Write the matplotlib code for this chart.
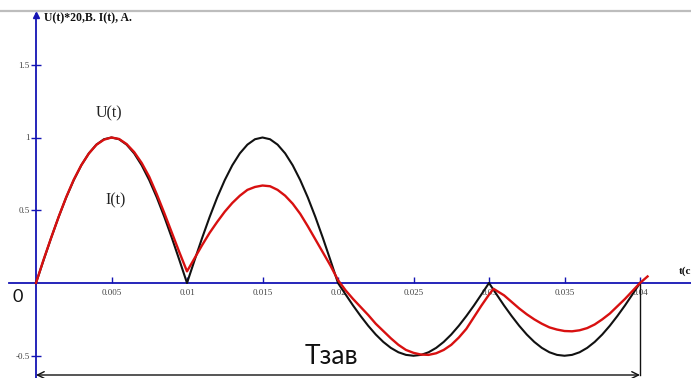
import matplotlib
matplotlib.use("Agg")
import matplotlib.pyplot as plt

# ---- data ----
t_u = [0.0, 0.0005, 0.001, 0.0015, 0.002, 0.0025, 0.003, 0.0035, 0.004, 0.0045,
       0.005, 0.0055, 0.006, 0.0065, 0.007, 0.0075, 0.008, 0.0085, 0.009, 0.0095,
       0.01, 0.0105, 0.011, 0.0115, 0.012, 0.0125, 0.013, 0.0135, 0.014, 0.0145,
       0.015, 0.0155, 0.016, 0.0165, 0.017, 0.0175, 0.018, 0.0185, 0.019, 0.0195,
       0.02, 0.0205, 0.021, 0.0215, 0.022, 0.0225, 0.023, 0.0235, 0.024, 0.0245,
       0.025, 0.0255, 0.026, 0.0265, 0.027, 0.0275, 0.028, 0.0285, 0.029, 0.0295,
       0.03, 0.0305, 0.031, 0.0315, 0.032, 0.0325, 0.033, 0.0335, 0.034, 0.0345,
       0.035, 0.0355, 0.036, 0.0365, 0.037, 0.0375, 0.038, 0.0385, 0.039, 0.0395,
       0.04]
u_vals = [0.0, 0.156, 0.309, 0.454, 0.588, 0.707, 0.809, 0.891, 0.951, 0.988,
          1.0, 0.988, 0.951, 0.891, 0.809, 0.707, 0.588, 0.454, 0.309, 0.156,
          0.0, 0.156, 0.309, 0.454, 0.588, 0.707, 0.809, 0.891, 0.951, 0.988,
          1.0, 0.988, 0.951, 0.891, 0.809, 0.707, 0.588, 0.454, 0.309, 0.156,
          0.0, -0.078, -0.155, -0.227, -0.294, -0.354, -0.405, -0.446, -0.476, -0.494,
          -0.5, -0.494, -0.476, -0.446, -0.405, -0.354, -0.294, -0.227, -0.155, -0.078,
          0.0, -0.078, -0.155, -0.227, -0.294, -0.354, -0.405, -0.446, -0.476, -0.494,
          -0.5, -0.494, -0.476, -0.446, -0.405, -0.354, -0.294, -0.227, -0.155, -0.078,
          0.0]

t_i = [0.0, 0.0005, 0.001, 0.0015, 0.002, 0.0025, 0.003, 0.0035, 0.004, 0.0045,
       0.005, 0.0055, 0.006, 0.0065, 0.007, 0.0075, 0.008, 0.0085, 0.009, 0.0095,
       0.01, 0.0105, 0.011, 0.0115, 0.012, 0.0125, 0.013, 0.0135, 0.014, 0.0145,
       0.015, 0.0155, 0.016, 0.0165, 0.017, 0.0175, 0.018, 0.0185, 0.019, 0.0195,
       0.02, 0.0205, 0.021, 0.0215, 0.022, 0.0225, 0.023, 0.0235, 0.024, 0.0245,
       0.025, 0.0255, 0.026, 0.0265, 0.027, 0.0275, 0.028, 0.0285, 0.029, 0.0295,
       0.03, 0.0303, 0.031, 0.0315, 0.032, 0.0325, 0.033, 0.0335, 0.034, 0.0345,
       0.035, 0.0355, 0.036, 0.0365, 0.037, 0.0375, 0.038, 0.0385, 0.039, 0.0395,
       0.04, 0.0405]
i_vals = [0.0, 0.16, 0.31, 0.455, 0.59, 0.71, 0.81, 0.89, 0.95, 0.985,
          1.0, 0.99, 0.955, 0.90, 0.825, 0.73, 0.61, 0.48, 0.345, 0.21,
          0.08, 0.17, 0.26, 0.345, 0.42, 0.49, 0.55, 0.60, 0.64, 0.66,
          0.67, 0.665, 0.64, 0.60, 0.545, 0.475, 0.39, 0.30, 0.21, 0.12,
          0.02, -0.05, -0.11, -0.165, -0.22, -0.28, -0.33, -0.38, -0.425, -0.46,
          -0.48, -0.492, -0.494, -0.483, -0.46, -0.425, -0.375, -0.315, -0.235, -0.155,
          -0.08, -0.04, -0.085, -0.13, -0.175, -0.215, -0.25, -0.28, -0.305, -0.32,
          -0.33, -0.332, -0.325, -0.31, -0.285, -0.25, -0.21, -0.16, -0.11, -0.055,
          0.0, 0.045]

x_ticks = [0.005, 0.01, 0.015, 0.02, 0.025, 0.03, 0.035, 0.04]
x_tick_labels = ["0.005", "0.01", "0.015", "0.02", "0.025", "0.03", "0.035", "0.04"]
y_ticks = [-0.5, 0.5, 1.0, 1.5]
y_tick_labels = ["-0.5", "0.5", "1", "1.5"]
t_period = 0.04

# ---- figure ----
W, H = 691, 378
fig = plt.figure(figsize=(W / 100, H / 100), dpi=100)
ax = fig.add_axes([0, 0, 1, 1])

px_per_s = 15100.0
px_per_unit = 145.5
x0_px, y0_px = 36.0, 283.0
ax.set_xlim(-x0_px / px_per_s, (W - x0_px) / px_per_s)
ax.set_ylim(-(H - y0_px) / px_per_unit, y0_px / px_per_unit)

def ypx(p):
    return (y0_px - p) / px_per_unit

def xpx(p):
    return (p - x0_px) / px_per_s

blue = "#1414b4"
ax.spines["top"].set_visible(False)
ax.spines["right"].set_visible(False)
ax.spines["left"].set_position(("data", 0))
ax.spines["bottom"].set_position(("data", 0))
for s in ("left", "bottom"):
    ax.spines[s].set_color(blue)
    ax.spines[s].set_linewidth(1.3)
ax.spines["left"].set_bounds(ypx(H), ypx(14))
ax.spines["bottom"].set_bounds(xpx(9), xpx(W))

ax.set_xticks(x_ticks)
ax.set_xticklabels(x_tick_labels)
ax.set_yticks(y_ticks)
ax.set_yticklabels(y_tick_labels)
ax.tick_params(axis="x", direction="in", length=4, width=1, color=blue, pad=4,
               labelsize=6.5, labelcolor="#444444")
ax.tick_params(axis="y", direction="inout", length=7, width=1, color=blue, pad=1,
               labelsize=6.5, labelcolor="#444444")
for lab in ax.get_xticklabels() + ax.get_yticklabels():
    lab.set_fontfamily("Liberation Serif")

# top grey line and axis arrow
ax.axhline(ypx(11), color="#bdbdbd", lw=1.6, zorder=1)
ax.plot([0], [ypx(15)], marker="^", color=blue, markersize=5, clip_on=False, zorder=5)

# curves
ax.plot(t_u, u_vals, color="#111111", lw=1.5, zorder=3)
ax.plot(t_i, i_vals, color="#d81010", lw=1.7, zorder=4)

# texts
serif = "Liberation Serif"
ax.text(xpx(44), ypx(18), "U(t)*20,B. I(t), A.", family=serif, fontweight="bold",
        fontsize=8.5, ha="left", va="center", color="#111111")
ax.text(xpx(96), ypx(113), "U(t)", family=serif, fontsize=11.5, ha="left", va="center",
        color="#222222")
ax.text(xpx(105), ypx(200), "I(t)", family=serif, fontsize=11.5, ha="left", va="center",
        color="#222222")
ax.text(xpx(679), ypx(271), "t(c", family=serif, fontweight="bold", fontsize=8,
        ha="left", va="center", color="#111111")
ax.text(xpx(18), ypx(297), "0", family=["Lato", "Noto Sans", "DejaVu Sans"],
        fontsize=13, ha="center", va="center", color="#111111")
ax.text(xpx(331), ypx(357), "Тзав", family=["Lato", "Noto Sans", "DejaVu Sans"],
        fontsize=19, ha="center", va="center", color="#111111")

# T span arrow and vertical line
y_arrow = ypx(375)
ax.annotate("", xy=(0, y_arrow), xytext=(t_period, y_arrow),
            arrowprops=dict(arrowstyle="<->", color="#111111", lw=1.0,
                            shrinkA=0, shrinkB=0, mutation_scale=12))
ax.plot([t_period, t_period], [0, y_arrow], color="#111111", lw=1.0, zorder=2)

fig.savefig("out.png", dpi=100)
